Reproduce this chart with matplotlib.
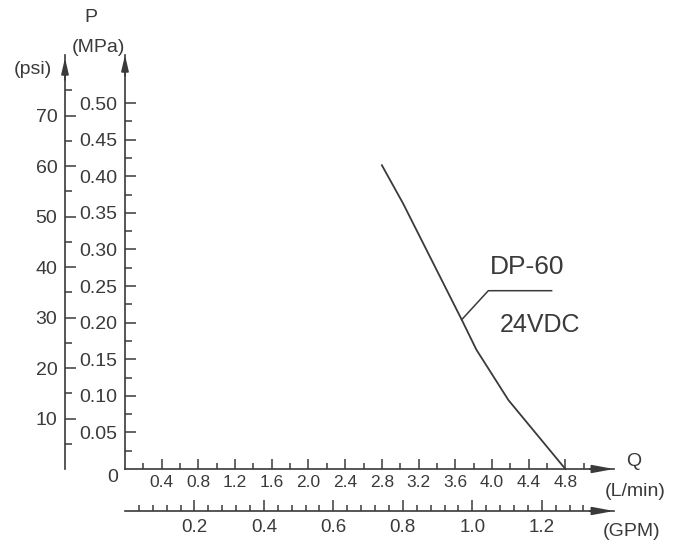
'''
Pump curve DP-60 24VDC: pressure vs flow, with psi / GPM helper scales
'''

import numpy as np
import matplotlib
matplotlib.use('Agg')
import matplotlib.pyplot as plt

plt.rcParams['font.family'] = ['Liberation Sans', 'DejaVu Sans']

INK = '#3a3a3a'

# curve (flow in L/min, pressure in MPa)
flow_lpm = [2.8, 3.03, 3.67, 3.83, 4.18, 4.8]
pressure_mpa = [0.415, 0.363, 0.204, 0.163, 0.094, 0.0]

# tick labels
lpm_ticks = [0.4, 0.8, 1.2, 1.6, 2.0, 2.4, 2.8, 3.2, 3.6, 4.0, 4.4, 4.8]
lpm_labels = ['0.4', '0.8', '1.2', '1.6', '2.0', '2.4', '2.8', '3.2', '3.6', '4.0', '4.4', '4.8']
mpa_ticks = [0.05, 0.10, 0.15, 0.20, 0.25, 0.30, 0.35, 0.40, 0.45, 0.50]
mpa_labels = ['0.05', '0.10', '0.15', '0.20', '0.25', '0.30', '0.35', '0.40', '0.45', '0.50']
psi_ticks = [10, 20, 30, 40, 50, 60, 70]
psi_labels = ['10', '20', '30', '40', '50', '60', '70']
gpm_ticks = [0.2, 0.4, 0.6, 0.8, 1.0, 1.2]
gpm_labels = ['0.2', '0.4', '0.6', '0.8', '1.0', '1.2']

# leader line for the label (data coords, L/min & MPa)
leader_q = [3.67, 3.96, 4.65]
leader_p = [0.204, 0.2436, 0.2436]

PSI_PER_MPA = 145.038
LPM_PER_GPM = 3.78541

W, H = 694, 558
fig = plt.figure(figsize=(W / 100, H / 100), dpi=100)
ax = fig.add_axes([125 / W, 89 / H, 489 / W, 414 / H])
ax.set_xlim(0, 5.33)
ax.set_ylim(0, 0.5656)

for s in ['top', 'right']:
    ax.spines[s].set_visible(False)
for s in ['left', 'bottom']:
    ax.spines[s].set_color(INK)
    ax.spines[s].set_linewidth(1.2)

# main axes ticks
ax.set_xticks(lpm_ticks, lpm_labels)
ax.set_xticks(np.arange(0.2, 5.01, 0.4), minor=True)
ax.set_yticks(mpa_ticks, mpa_labels)
ax.set_yticks(np.arange(0.025, 0.49, 0.05), minor=True)
ax.tick_params(axis='x', which='major', direction='in', length=7.5, width=1.1,
               color=INK, labelcolor=INK, labelsize=12.5, pad=4)
ax.tick_params(axis='x', which='minor', direction='in', length=4.3, width=1.1, color=INK)
ax.tick_params(axis='y', which='major', direction='in', length=8, width=1.1,
               color=INK, labelcolor=INK, labelsize=14, pad=5.5)
ax.tick_params(axis='y', which='minor', direction='in', length=5, width=1.1, color=INK)

# psi scale on the left
psi_ax = ax.secondary_yaxis(-0.1227, functions=(lambda p: p * PSI_PER_MPA,
                                                 lambda s: s / PSI_PER_MPA))
psi_ax.set_yticks(psi_ticks, psi_labels)
psi_ax.set_yticks(np.arange(5, 76, 10), minor=True)
psi_ax.tick_params(axis='y', which='major', direction='in', length=8, width=1.1,
                   color=INK, labelcolor=INK, labelsize=14, pad=5.5)
psi_ax.tick_params(axis='y', which='minor', direction='in', length=5, width=1.1, color=INK)
for sp in psi_ax.spines.values():
    sp.set_color(INK)
    sp.set_linewidth(1.2)

# GPM scale underneath
gpm_ax = ax.secondary_xaxis(-0.1014, functions=(lambda q: q / LPM_PER_GPM,
                                                 lambda g: g * LPM_PER_GPM))
gpm_ax.set_xticks(gpm_ticks, gpm_labels)
gpm_ax.set_xticks(np.arange(0.04, 1.33, 0.04), minor=True)
gpm_ax.tick_params(axis='x', which='major', direction='in', length=8, width=1.1,
                   color=INK, labelcolor=INK, labelsize=13.5, pad=6)
gpm_ax.tick_params(axis='x', which='minor', direction='in', length=4.3, width=1.1, color=INK)
for sp in gpm_ax.spines.values():
    sp.set_color(INK)
    sp.set_linewidth(1.2)

# arrow heads at the ends of the scales
def arrow_head(x0, y0, x1, y1, hl, hw):
    ax.annotate('', xy=(x1, y1), xytext=(x0, y0), xycoords='axes fraction',
                annotation_clip=False,
                arrowprops=dict(arrowstyle='-|>,head_length=%s,head_width=%s' % (hl, hw),
                                mutation_scale=10, color=INK, lw=1.2,
                                shrinkA=0, shrinkB=0))

arrow_head(0.95, 0, 1.0, 0, 1.3, 0.24)
arrow_head(0.95, -0.1014, 1.0, -0.1014, 1.3, 0.24)
arrow_head(0, 0.95, 0, 1.0, 0.95, 0.22)
arrow_head(-0.1227, 0.94, -0.1227, 0.9928, 0.95, 0.22)

# the pump curve and its label
ax.plot(flow_lpm, pressure_mpa, color=INK, lw=1.3, clip_on=False)
ax.plot(leader_q, leader_p, color=INK, lw=1.1)
fig.text(527 / W, 1 - 267 / H, 'DP-60', fontsize=19, color=INK, ha='center', va='center')
fig.text(540 / W, 1 - 325 / H, '24VDC', fontsize=18, color=INK, ha='center', va='center')

# axis names
ax.annotate('0', xy=(0, 0), xytext=(-9, -6), textcoords='offset points',
            fontsize=14, color=INK, ha='center', va='center', annotation_clip=False)
fig.text(91 / W, 1 - 18 / H, 'P', fontsize=14, color=INK, ha='center', va='center')
fig.text(98 / W, 1 - 47 / H, '(MPa)', fontsize=14, color=INK, ha='center', va='center')
fig.text(33 / W, 1 - 70 / H, '(psi)', fontsize=14, color=INK, ha='center', va='center')
fig.text(634 / W, 1 - 462 / H, 'Q', fontsize=14, color=INK, ha='center', va='center')
fig.text(635 / W, 1 - 492 / H, '(L/min)', fontsize=14, color=INK, ha='center', va='center')
fig.text(632 / W, 1 - 531 / H, '(GPM)', fontsize=14, color=INK, ha='center', va='center')

plt.savefig('out.png', dpi=100)
